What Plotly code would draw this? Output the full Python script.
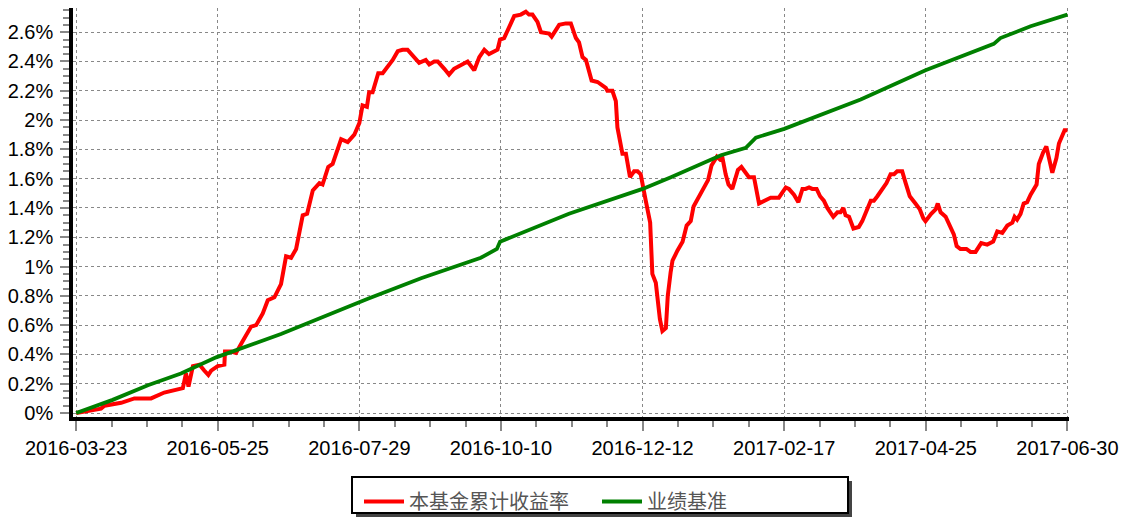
import plotly.graph_objects as go

# ---------------- data ----------------
x_tick_pos = [0, 45, 90, 135, 180, 225, 270, 315]
x_tick_labels = ["2016-03-23", "2016-05-25", "2016-07-29", "2016-10-10",
                 "2016-12-12", "2017-02-17", "2017-04-25", "2017-06-30"]
y_tick_vals = [0, 0.2, 0.4, 0.6, 0.8, 1.0, 1.2, 1.4, 1.6, 1.8, 2.0, 2.2, 2.4, 2.6]
y_tick_labels = ["0%", "0.2%", "0.4%", "0.6%", "0.8%", "1%", "1.2%", "1.4%",
                 "1.6%", "1.8%", "2%", "2.2%", "2.4%", "2.6%"]

series_names = ["本基金累计收益率", "业绩基准"]

red_idx = [0, 7.9, 9.0, 14.3, 18.5, 23.8, 28.0, 32.3, 33.9, 34.9,
           35.7, 37.1, 39.2, 40.7, 42.0, 42.9, 45.0, 47.1, 47.3, 49.2,
           50.8, 52.9, 55.6, 57.2, 59.3, 60.9, 63.0, 65.1, 66.7, 68.3,
           69.9, 72.0, 73.4, 75.2, 77.3, 78.3, 80.1, 81.5, 84.2, 86.3,
           88.4, 90.0, 91.0, 92.4, 93.1, 94.2, 96.0, 97.4, 99.0, 100.6,
           102.2, 103.7, 105.3, 107.4, 109.0, 111.1, 112.2, 113.8, 114.9, 117.0,
           118.5, 120.1, 122.8, 124.4, 126.5, 128.1, 129.7, 131.2, 133.9, 134.7,
           136.0, 137.6, 139.2, 141.3, 142.9, 143.9, 145.0, 146.6, 147.7, 150.3,
           151.1, 153.5, 155.6, 157.2, 158.8, 159.8, 160.9, 162.0, 163.8, 165.7,
           168.3, 168.8, 170.4, 171.5, 172.0, 173.6, 174.7, 176.0, 177.3, 178.4,
           179.4, 181.0, 182.4, 183.1, 184.2, 185.5, 186.3, 187.4, 188.0, 188.9,
           189.5, 191.1, 192.7, 194.0, 195.3, 196.2, 197.9, 200.1, 200.8, 201.9,
           203.6, 204.6, 205.4, 206.4, 207.3, 208.5, 210.3, 211.4, 212.8, 213.8,
           215.4, 217.0, 219.7, 220.7, 223.3, 225.5, 226.5, 228.1, 229.5, 230.8,
           231.8, 232.9, 233.9, 235.3, 236.4, 237.6, 238.7, 240.6, 241.9, 242.9,
           243.8, 244.5, 245.6, 247.0, 248.7, 249.8, 252.5, 253.5, 254.6, 256.2,
           257.5, 258.8, 259.9, 260.9, 262.5, 263.6, 264.9, 266.7, 268.1, 269.2,
           269.9, 271.7, 273.1, 273.8, 274.7, 276.3, 277.9, 278.9, 279.8, 281.0,
           282.9, 284.2, 285.8, 287.6, 289.5, 291.4, 292.7, 294.3, 295.9, 297.5,
           298.2, 299.0, 300.1, 301.1, 302.2, 303.3, 305.2, 305.9, 307.3, 308.3,
           310.2, 311.5, 312.3, 314.1, 315.0]
red_val = [0.00, 0.03, 0.05, 0.07, 0.10, 0.10, 0.14, 0.16, 0.17, 0.27,
           0.18, 0.32, 0.33, 0.29, 0.26, 0.29, 0.32, 0.33, 0.42, 0.42,
           0.41, 0.49, 0.59, 0.60, 0.68, 0.77, 0.79, 0.88, 1.07, 1.06,
           1.12, 1.35, 1.36, 1.52, 1.57, 1.56, 1.68, 1.70, 1.87, 1.85,
           1.90, 1.98, 2.10, 2.09, 2.19, 2.19, 2.32, 2.32, 2.36, 2.41,
           2.47, 2.48, 2.48, 2.43, 2.39, 2.41, 2.38, 2.40, 2.40, 2.35,
           2.31, 2.35, 2.38, 2.40, 2.34, 2.43, 2.48, 2.45, 2.48, 2.55,
           2.56, 2.64, 2.71, 2.72, 2.74, 2.72, 2.72, 2.67, 2.60, 2.59,
           2.57, 2.65, 2.66, 2.66, 2.56, 2.53, 2.43, 2.41, 2.27, 2.26,
           2.22, 2.20, 2.20, 2.13, 1.95, 1.77, 1.77, 1.61, 1.65, 1.65,
           1.63, 1.45, 1.30, 0.95, 0.89, 0.64, 0.56, 0.58, 0.80, 0.96,
           1.04, 1.11, 1.17, 1.28, 1.31, 1.41, 1.48, 1.57, 1.59, 1.69,
           1.75, 1.73, 1.74, 1.63, 1.56, 1.53, 1.66, 1.68, 1.64, 1.61,
           1.61, 1.43, 1.46, 1.47, 1.47, 1.54, 1.53, 1.49, 1.44, 1.53,
           1.53, 1.54, 1.53, 1.53, 1.48, 1.45, 1.40, 1.34, 1.37, 1.37,
           1.40, 1.35, 1.34, 1.26, 1.27, 1.31, 1.45, 1.45, 1.48, 1.53,
           1.57, 1.63, 1.63, 1.65, 1.65, 1.57, 1.48, 1.43, 1.39, 1.33,
           1.31, 1.36, 1.39, 1.43, 1.37, 1.34, 1.27, 1.22, 1.14, 1.12,
           1.12, 1.10, 1.10, 1.16, 1.15, 1.17, 1.24, 1.23, 1.28, 1.30,
           1.34, 1.32, 1.36, 1.43, 1.44, 1.49, 1.56, 1.70, 1.78, 1.82,
           1.64, 1.74, 1.84, 1.93, 1.93]

green_idx = [0, 11.6, 22.8, 33.3, 44.5, 65.1, 92.7, 109.6, 128.6, 133.7,
             134.7, 156.6, 180.0, 189.0, 204.9, 212.8, 216.0, 225.0, 249.3,
             269.9, 291.6, 293.7, 303.3, 312.8, 315.0]
green_val = [0.00, 0.09, 0.19, 0.27, 0.38, 0.54, 0.78, 0.92, 1.06, 1.12,
             1.17, 1.36, 1.53, 1.61, 1.76, 1.81, 1.88, 1.94, 2.14,
             2.34, 2.52, 2.56, 2.64, 2.71, 2.72]

# ---------------- layout geometry (pixels) ----------------
# the page body adds an 8px margin, so the figure is drawn at (8, 8)
OX, OY = 8, 8
W, H = 1119, 510
L, R, T, B = 65, 58, 0, 101
PW, PH = W - L - R, H - T - B


def px(xw):
    """window x pixel -> paper fraction"""
    return (xw - OX - L) / PW


def py(yw):
    """window y pixel -> paper fraction"""
    return (OY + H - B - yw) / PH


fig = go.Figure()
fig.add_trace(go.Scatter(x=red_idx, y=red_val, mode="lines", name=series_names[0],
                         line=dict(color="#ff0000", width=4)))
fig.add_trace(go.Scatter(x=green_idx, y=green_val, mode="lines", name=series_names[1],
                         line=dict(color="#008000", width=3.8)))

tick_font = dict(family="Liberation Sans, Arial, sans-serif", size=20, color="#000")

fig.update_xaxes(
    range=[-1.0, 315.5], showline=True, linewidth=3.5, linecolor="#000",
    tickmode="array", tickvals=x_tick_pos, ticktext=x_tick_labels,
    ticks="outside", ticklen=10, tickwidth=2, tickcolor="#888",
    tickfont=tick_font,
    showgrid=True, gridcolor="#888", griddash="dot", gridwidth=1,
    zeroline=False, automargin=False,
    minor=dict(tickmode="linear", tick0=0, dtick=11.25, ticks="outside",
               ticklen=6, tickwidth=2, tickcolor="#888", showgrid=False),
)
fig.update_yaxes(
    range=[-0.027, 2.765], showline=True, linewidth=3.5, linecolor="#000",
    tickmode="array", tickvals=y_tick_vals, ticktext=y_tick_labels,
    ticks="outside", ticklen=9, tickwidth=2, tickcolor="#888",
    tickfont=tick_font, ticklabelstandoff=3,
    showgrid=True, gridcolor="#888", griddash="dot", gridwidth=1,
    zeroline=False, automargin=False,
    minor=dict(tickmode="linear", tick0=0, dtick=0.05, ticks="outside",
               ticklen=6, tickwidth=2, tickcolor="#888", showgrid=False),
)

# legend box with drop shadow
shapes = [
    dict(type="rect", xref="paper", yref="paper",
         x0=px(356), x1=px(852), y0=py(517), y1=py(481),
         fillcolor="#444", line=dict(width=0), layer="above"),
    dict(type="rect", xref="paper", yref="paper",
         x0=px(352), x1=px(848), y0=py(513), y1=py(477),
         fillcolor="#fff", line=dict(color="#000", width=2), layer="above"),
]

fig.update_layout(
    width=W, height=H,
    margin=dict(l=L, r=R, t=T, b=B, pad=0, autoexpand=False),
    paper_bgcolor="#fff", plot_bgcolor="#fff",
    shapes=shapes,
    showlegend=True,
    legend=dict(orientation="h", x=px(359), y=py(482), xanchor="left", yanchor="top",
                bgcolor="rgba(0,0,0,0)", borderwidth=0,
                font=dict(family="Noto Sans CJK SC", size=20, color="#555"),
                entrywidth=183, entrywidthmode="pixels", itemwidth=40),
)

fig.write_html("out.html")
